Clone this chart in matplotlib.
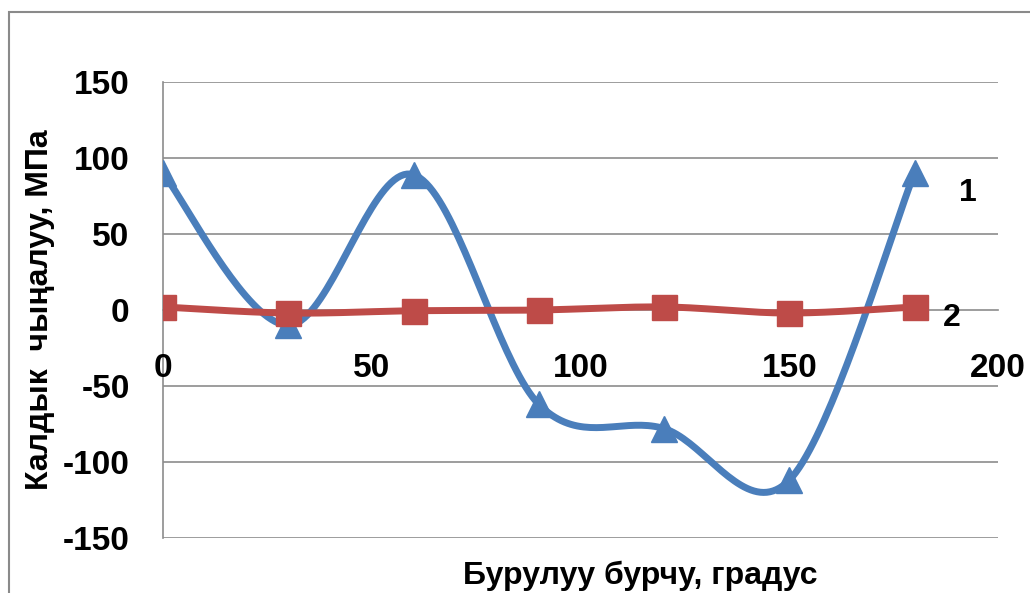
import numpy as np
import matplotlib.pyplot as plt
from matplotlib.patches import Rectangle

# rotation angle, degrees
angle = [0, 30, 60, 90, 120, 150, 180]
# residual stress, MPa
stress_1 = [90, -10, 89, -62, -78, -112, 90]
stress_2 = [2, -2, -0.5, 0, 2, -2, 2]

x_ticks = [0, 50, 100, 150, 200]
y_ticks = [-150, -100, -50, 0, 50, 100, 150]

blue = '#4A7EBB'
red = '#BE4B48'
grid_gray = '#8C8C8C'

plt.rcParams['font.family'] = ['Liberation Sans', 'DejaVu Sans']
plt.rcParams['font.weight'] = 'bold'


# Excel-style smoothed line (Bezier through the points)
def smooth(xs, ys, n=40):
    p = np.column_stack([xs, ys]).astype(float)
    p = np.vstack([p[0], p, p[-1]])
    out = []
    for i in range(1, len(p) - 2):
        p0, p1, p2, p3 = p[i - 1], p[i], p[i + 1], p[i + 2]
        c1 = p1 + (p2 - p0) / 6
        c2 = p2 - (p3 - p1) / 6
        t = np.linspace(0, 1, n)[:, None]
        seg = ((1 - t) ** 3) * p1 + 3 * ((1 - t) ** 2) * t * c1 + 3 * (1 - t) * t ** 2 * c2 + t ** 3 * p2
        out.append(seg if i == 1 else seg[1:])
    out = np.vstack(out)
    return out[:, 0], out[:, 1]


fig = plt.figure(figsize=(10.3, 5.93), dpi=100)
ax = fig.add_axes([163 / 1030, 1 - 538 / 593, (998 - 163) / 1030, (538 - 82) / 593])

# outer chart frame
fig.patches.append(Rectangle((9 / 1030, -0.1), 1.2, 1 - 12 / 593 + 0.1, transform=fig.transFigure,
                             fill=False, edgecolor='#8A8A8A', linewidth=1.5))

ax.set_xlim(0, 200)
ax.set_ylim(-150, 150)

for yv in y_ticks:
    if yv != 0:
        ax.axhline(yv, color=grid_gray, linewidth=1.2, zorder=1)

sx, sy = smooth(angle, stress_1)
ax.plot(sx, sy, color=blue, linewidth=5, zorder=3, solid_capstyle='round')
ax.plot(angle, stress_1, linestyle='none', marker='^', markersize=18.5, color=blue, zorder=4)

rx, ry = smooth(angle, stress_2)
ax.plot(rx, ry, color=red, linewidth=5, zorder=5, solid_capstyle='round')
ax.plot(angle, stress_2, linestyle='none', marker='s', markersize=18, color=red, zorder=6)

ax.spines['top'].set_visible(False)
ax.spines['right'].set_visible(False)
ax.spines['bottom'].set_position(('data', 0))
for side in ['bottom', 'left']:
    ax.spines[side].set_color(grid_gray)
    ax.spines[side].set_linewidth(1.2)
    ax.spines[side].set_zorder(1)

ax.set_xticks(x_ticks)
ax.set_yticks(y_ticks)
ax.set_yticklabels([str(v) for v in y_ticks])
ax.tick_params(length=0, labelsize=24)
ax.tick_params(axis='y', pad=24)
ax.tick_params(axis='x', pad=31)
for lbl in ax.get_xticklabels() + ax.get_yticklabels():
    lbl.set_fontweight('bold')

fig.text(40 / 1030, 1 - 310 / 593, 'Калдык  чыңалуу, МПа', rotation=90, ha='center', va='center',
         fontsize=23, fontweight='bold')
fig.text(640 / 1030, 1 - 576 / 593, 'Бурулуу бурчу, градус', ha='center', va='center',
         fontsize=23, fontweight='bold')

ax.text(192.8, 77, '1', fontsize=23, fontweight='bold', ha='center', va='center')
ax.text(189, -5, '2', fontsize=23, fontweight='bold', ha='center', va='center')

fig.savefig('out.png', dpi=100)
